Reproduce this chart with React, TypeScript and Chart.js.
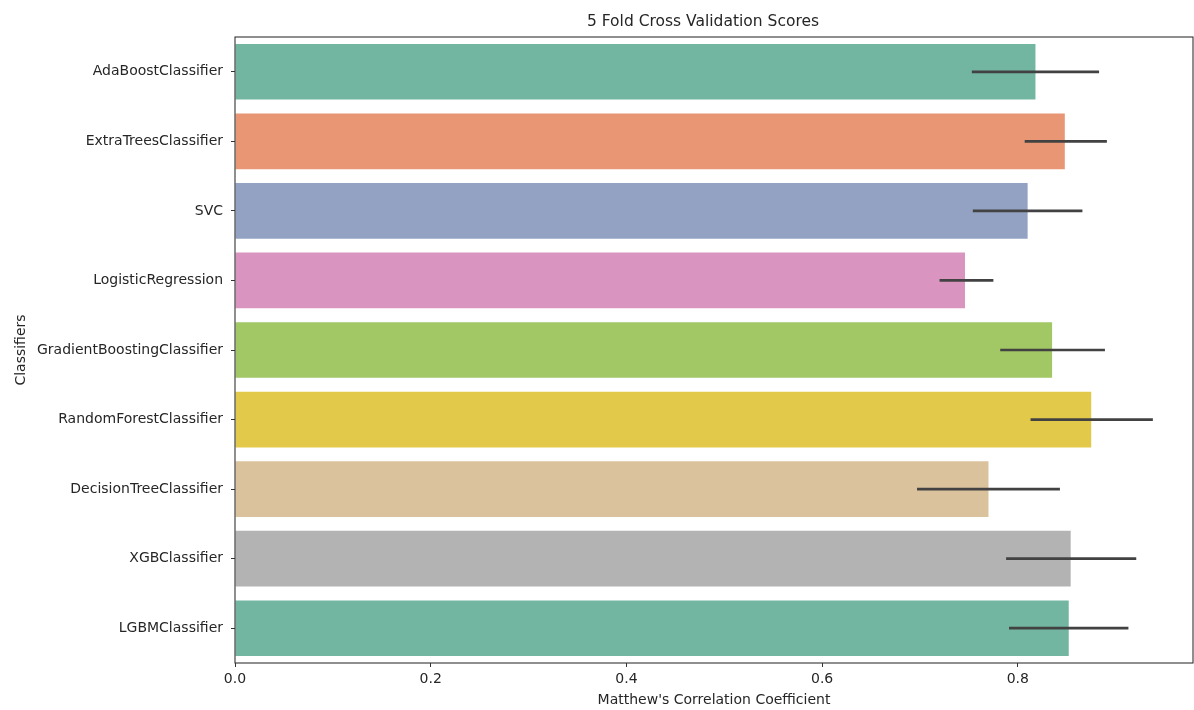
import React, { useEffect, useRef } from "react";
import { Chart, registerables } from "chart.js";

Chart.register(...registerables);

// Mean 5-fold MCC per classifier with 95% interval bounds
const classifiers = [
  "AdaBoostClassifier",
  "ExtraTreesClassifier",
  "SVC",
  "LogisticRegression",
  "GradientBoostingClassifier",
  "RandomForestClassifier",
  "DecisionTreeClassifier",
  "XGBClassifier",
  "LGBMClassifier",
];
const meanScores = [0.818, 0.848, 0.81, 0.746, 0.835, 0.875, 0.77, 0.854, 0.852];
const lowerBounds = [0.753, 0.807, 0.754, 0.72, 0.782, 0.813, 0.697, 0.788, 0.791];
const upperBounds = [0.883, 0.891, 0.866, 0.775, 0.889, 0.938, 0.843, 0.921, 0.913];
const barColors = [
  "#72b5a0",
  "#e89674",
  "#93a2c3",
  "#da94c0",
  "#a2c765",
  "#e3c94a",
  "#dac39c",
  "#b3b3b3",
  "#72b5a0",
];
const xTickValues = [0, 0.2, 0.4, 0.6, 0.8];

const FONT = "'DejaVu Sans', sans-serif";
const INK = "#262626";

const errorBarPlugin = {
  id: "errorBars",
  afterDatasetsDraw(chart: any) {
    const { ctx, scales } = chart;
    const x = scales.x;
    const y = scales.y;
    ctx.save();
    ctx.strokeStyle = "#424242";
    ctx.lineWidth = 2.7;
    ctx.lineCap = "butt";
    classifiers.forEach((_, i) => {
      const py = y.getPixelForValue(i);
      ctx.beginPath();
      ctx.moveTo(x.getPixelForValue(lowerBounds[i]), py);
      ctx.lineTo(x.getPixelForValue(upperBounds[i]), py);
      ctx.stroke();
    });
    ctx.restore();
  },
};

const framePlugin = {
  id: "frameAndTitle",
  afterDraw(chart: any) {
    const { ctx, chartArea } = chart;
    ctx.save();
    ctx.strokeStyle = "#333333";
    ctx.lineWidth = 1.1;
    ctx.strokeRect(
      chartArea.left,
      chartArea.top,
      chartArea.right - chartArea.left,
      chartArea.bottom - chartArea.top
    );
    ctx.fillStyle = INK;
    ctx.font = `15.5px ${FONT}`;
    ctx.textAlign = "center";
    ctx.textBaseline = "middle";
    ctx.fillText(
      "5 Fold Cross Validation Scores",
      (chartArea.left + chartArea.right) / 2 - 11,
      chartArea.top - 15
    );
    ctx.restore();
  },
};

export default function App() {
  const canvasRef = useRef<HTMLCanvasElement | null>(null);

  useEffect(() => {
    document.body.style.margin = "0";
    const canvas = canvasRef.current;
    if (!canvas) return;
    const chart = new Chart(canvas, {
      type: "bar",
      data: {
        labels: classifiers,
        datasets: [
          {
            data: meanScores,
            backgroundColor: barColors,
            borderWidth: 0,
            barPercentage: 0.8,
            categoryPercentage: 1.0,
          },
        ],
      },
      options: {
        indexAxis: "y",
        responsive: false,
        animation: false,
        layout: { padding: { top: 37, right: 1, left: 0, bottom: 0 } },
        plugins: {
          legend: { display: false },
          title: { display: false },
          tooltip: { enabled: false },
        },
        scales: {
          x: {
            type: "linear",
            min: 0,
            max: 0.979,
            afterBuildTicks(scale: any) {
              scale.ticks = xTickValues.map((v) => ({ value: v }));
            },
            afterFit(scale: any) {
              scale.height = 47;
            },
            ticks: {
              color: INK,
              font: { family: FONT, size: 14 },
              padding: 4,
              maxRotation: 0,
              callback: (v: any) => Number(v).toFixed(1),
            },
            grid: {
              drawOnChartArea: false,
              drawTicks: true,
              tickLength: 4,
              color: "#333333",
            },
            border: { display: false },
            title: {
              display: true,
              text: "Matthew's Correlation Coefficient",
              color: INK,
              font: { family: FONT, size: 14 },
              padding: { top: 0, bottom: 1 },
            },
          },
          y: {
            type: "category",
            offset: true,
            afterFit(scale: any) {
              scale.width = 235;
            },
            ticks: {
              color: INK,
              font: { family: FONT, size: 14 },
              padding: 8,
            },
            grid: {
              drawOnChartArea: false,
              drawTicks: true,
              tickLength: 4,
              color: "#333333",
              offset: false,
            },
            border: { display: false },
            title: {
              display: true,
              text: "Classifiers",
              color: INK,
              font: { family: FONT, size: 14 },
              padding: { top: 13, bottom: 0 },
            },
          },
        },
      },
      plugins: [errorBarPlugin, framePlugin],
    });
    return () => chart.destroy();
  }, []);

  return (
    <div style={{ width: 1194, height: 710, background: "#ffffff" }}>
      <canvas ref={canvasRef} width={1194} height={710} />
    </div>
  );
}
